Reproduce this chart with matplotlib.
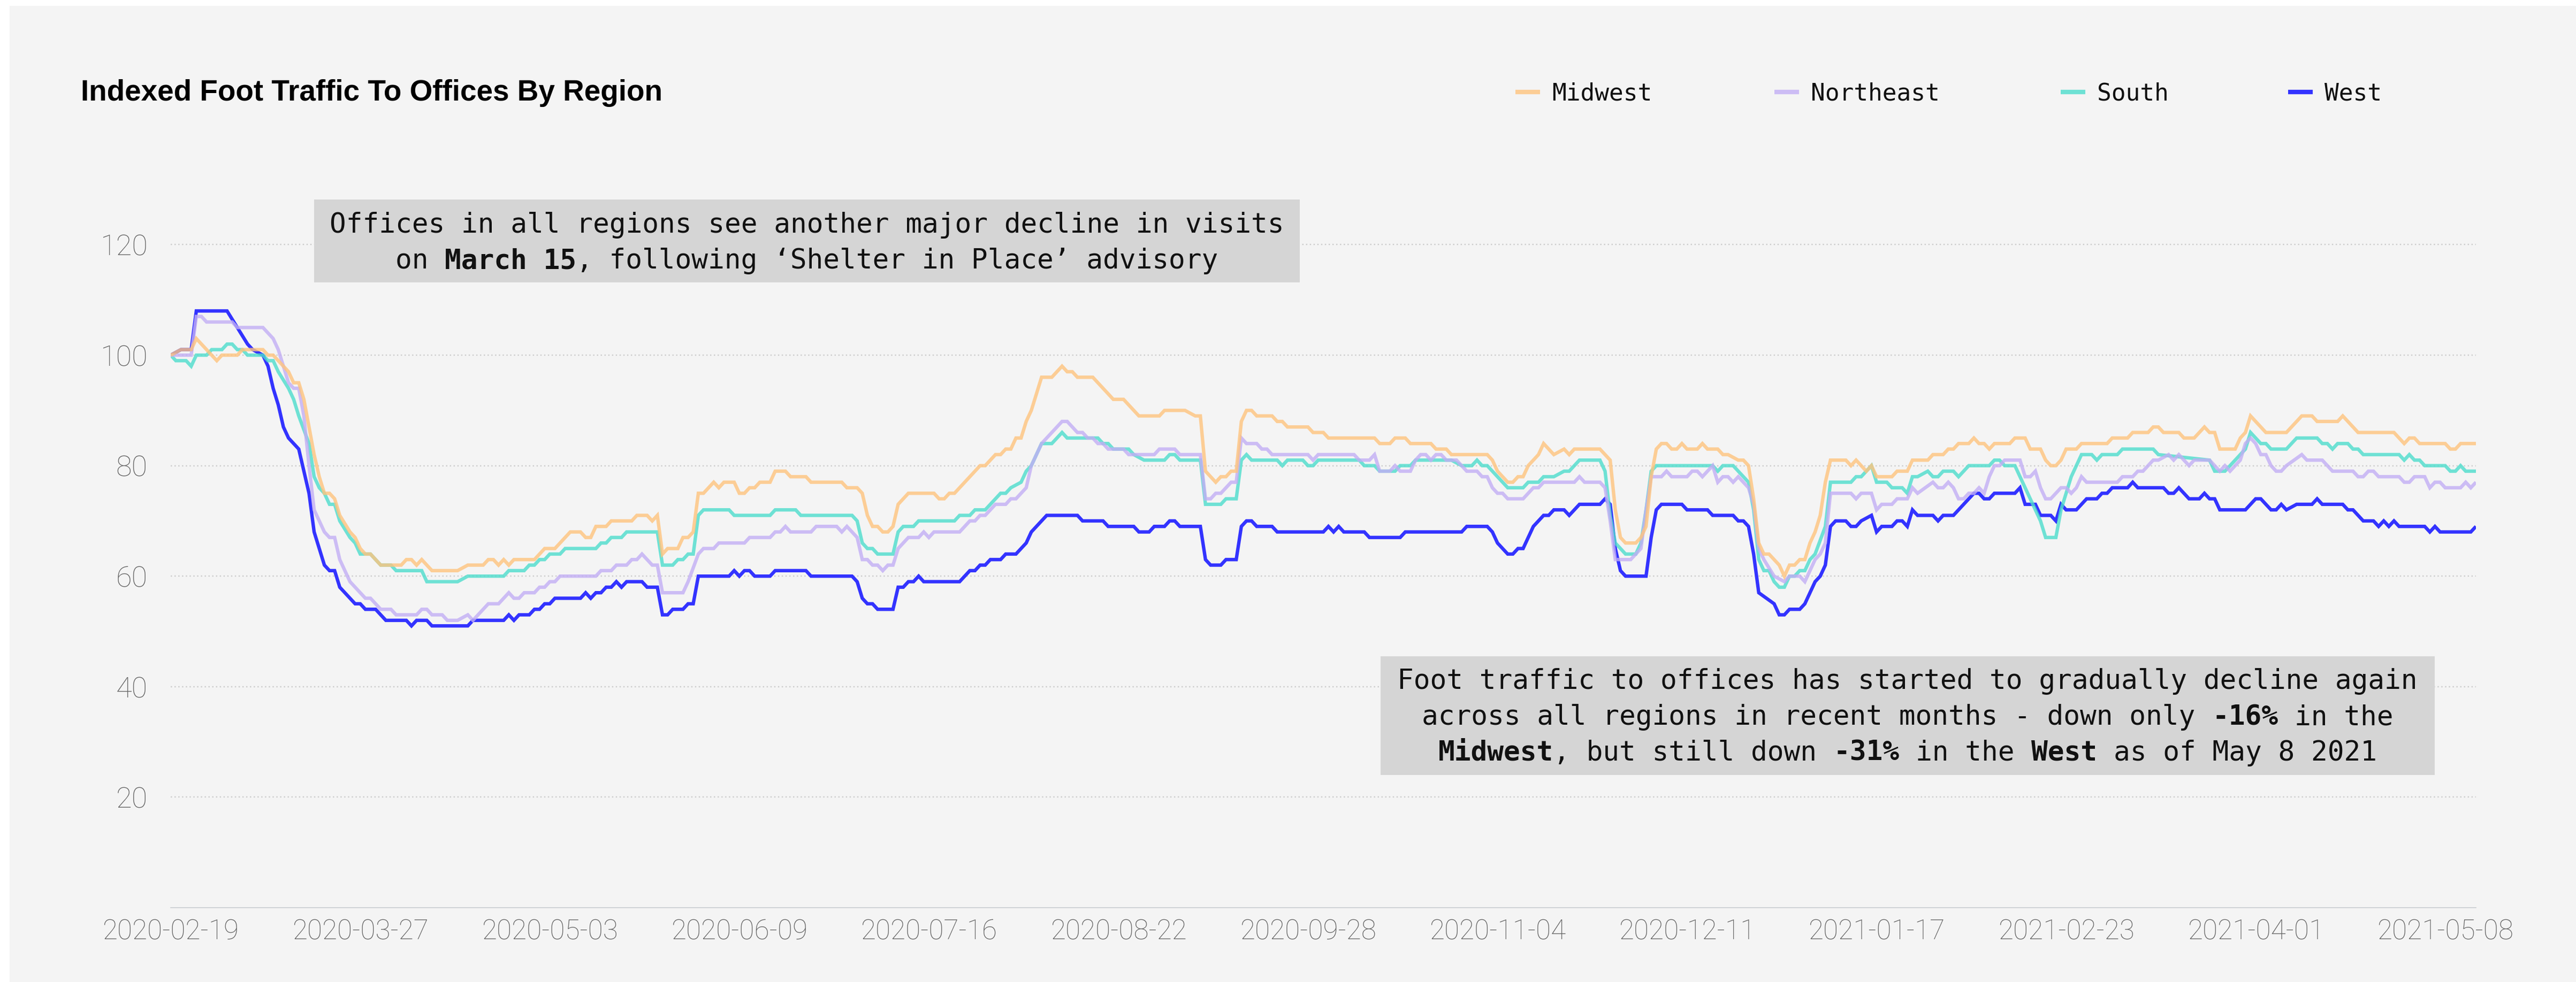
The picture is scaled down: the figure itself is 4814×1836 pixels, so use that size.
import matplotlib
matplotlib.use("Agg")
import matplotlib.pyplot as plt
import matplotlib.transforms as mtransforms
from matplotlib.lines import Line2D
from matplotlib.patches import Rectangle
import numpy as np

# ---------------- data (day offset from 2020-02-19, index value) ----------------
START_DATE = "2020-02-19"
LAST_DAY = 450

regions = ["Midwest", "Northeast", "South", "West"]

midwest_points = [
    (0,100),(2,101),(4,101),(5,103),(7,101),(9,99),(10,100),(13,100),(14,101),(18,101),(19,100),(20,100),(21,99),(23,97),(24,95),(25,95),(26,92),(27,87),(28,82),(29,78),(30,75),(31,75),(32,74),(33,71),(35,68),(36,67),(37,65),(38,64),(39,64),(41,62),(45,62),(46,63),(47,63),(48,62),(49,63),(51,61),(56,61),(58,62),(61,62),(62,63),(63,63),(64,62),(65,63),(66,62),(67,63),(71,63),(72,64),(73,65),(75,65),(76,66),(78,68),(80,68),(81,67),
    (82,67),(83,69),(85,69),(86,70),(90,70),(91,71),(93,71),(94,70),(95,71),(96,64),(97,65),(99,65),(100,67),(101,67),(102,68),(103,75),(104,75),(106,77),(107,76),(108,77),(110,77),(111,75),(112,75),(113,76),(114,76),(115,77),(117,77),(118,79),(120,79),(121,78),(124,78),(125,77),(131,77),(132,76),(134,76),(135,75),(136,71),(137,69),(138,69),(139,68),(140,68),(141,69),(142,73),(144,75),(149,75),(150,74),(151,74),(152,75),(153,75),(154,76),(156,78),(158,80),(159,80),(161,82),(162,82),(163,83),(164,83),(165,85),
    (166,85),(167,88),(168,90),(169,93),(170,96),(172,96),(174,98),(175,97),(176,97),(177,96),(180,96),(182,94),(184,92),(186,92),(188,90),(189,89),(193,89),(194,90),(198,90),(200,89),(201,89),(202,79),(204,77),(205,78),(206,78),(207,79),(208,79),(209,88),(210,90),(211,90),(212,89),(215,89),(216,88),(217,88),(218,87),(222,87),(223,86),(225,86),(226,85),(235,85),(236,84),(238,84),(239,85),(241,85),(242,84),(246,84),(247,83),(249,83),
    (250,82),(257,82),(258,81),(259,79),(261,77),(262,77),(263,78),(264,78),(265,80),(267,82),(268,84),(270,82),(272,83),(273,82),(274,83),(279,83),(281,81),(282,72),(283,67),(284,66),(286,66),(287,67),(288,69),(289,78),(290,83),(291,84),(292,84),(293,83),(294,83),(295,84),(296,83),(298,83),(299,84),(300,83),(302,83),(303,82),(304,82),(306,81),(307,81),(308,80),(309,74),(310,66),(311,64),(312,64),(314,62),(315,60),(316,62),(317,62),(318,63),(319,63),(320,66),(321,68),(322,71),(323,77),(324,81),(327,81),(328,80),(329,81),(330,80),(331,79),(332,80),(333,78),
    (336,78),(337,79),(339,79),(340,81),(343,81),(344,82),(346,82),(347,83),(348,83),(349,84),(351,84),(352,85),(353,84),(354,84),(355,83),(356,84),(359,84),(360,85),(362,85),(363,83),(365,83),(366,81),(367,80),(368,80),(369,81),(370,83),(372,83),(373,84),(378,84),(379,85),(382,85),(383,86),(386,86),(387,87),(388,87),(389,86),(392,86),(393,85),(395,85),(397,87),(398,86),(399,86),(400,83),(403,83),(404,85),(405,86),(406,89),(407,88),(408,87),(409,86),(413,86),(415,88),(416,89),(418,89),(419,88),(423,88),(424,89),(427,86),(434,86),(436,84),(437,85),(438,85),(439,84),(444,84),(445,83),(446,83),(447,84),(450,84),
]

northeast_points = [
    (0,100),(4,100),(5,107),(6,107),(7,106),(12,106),(13,105),(18,105),(20,103),(21,101),(22,98),(23,95),(24,94),(25,94),(26,89),(27,80),(28,72),(30,68),(31,67),(32,67),(33,63),(34,61),(35,59),(38,56),(39,56),(41,54),(43,54),(44,53),(48,53),(49,54),(50,54),(51,53),(53,53),(54,52),(56,52),(58,53),(59,52),(61,54),(62,55),(64,55),(65,56),(66,57),(67,56),(68,56),(69,57),(71,57),(72,58),(73,58),(74,59),(75,59),(76,60),(83,60),
    (84,61),(86,61),(87,62),(89,62),(90,63),(91,63),(92,64),(93,63),(94,62),(95,62),(96,57),(100,57),(101,59),(103,64),(104,65),(106,65),(107,66),(112,66),(113,67),(117,67),(118,68),(119,68),(120,69),(121,68),(125,68),(126,69),(130,69),(131,68),(132,69),(133,68),(134,67),(135,63),(136,63),(137,62),(138,62),(139,61),(140,62),(141,62),(142,65),(144,67),(146,67),(147,68),(148,67),(149,68),(154,68),(155,69),(156,70),(157,70),(158,71),(159,71),(160,72),(161,73),(163,73),(164,74),(165,74),
    (166,75),(167,76),(168,80),(169,82),(170,84),(172,86),(174,88),(175,88),(177,86),(178,86),(179,85),(180,85),(181,84),(182,84),(183,83),(186,83),(187,82),(192,82),(193,83),(196,83),(197,82),(201,82),(202,74),(203,74),(204,75),(205,75),(207,77),(208,77),(209,85),(210,84),(212,84),(213,83),(214,83),(215,82),(222,82),(223,81),(224,82),(231,82),(232,81),(234,81),(235,82),(236,79),(238,79),(239,80),(240,79),(242,79),(243,81),(244,82),(245,82),(246,81),(247,82),(248,82),
    (249,81),(251,81),(253,79),(255,79),(256,78),(257,78),(258,76),(259,75),(260,75),(261,74),(264,74),(266,76),(267,76),(268,77),(274,77),(275,78),(276,77),(279,77),(280,76),(281,70),(282,63),(285,63),(286,64),(287,65),(288,72),(289,78),(291,78),(292,79),(293,78),(296,78),(297,79),(298,79),(299,78),(301,80),(302,77),(303,78),(304,78),(305,77),(306,78),(308,76),(309,73),(310,65),(311,63),(313,60),(315,59),(316,60),(318,60),(319,59),(321,63),(322,64),(323,66),(324,75),(328,75),(329,74),(330,75),(332,75),
    (333,72),(334,73),(336,73),(337,74),(339,74),(340,76),(341,75),(344,77),(345,76),(346,76),(347,77),(348,76),(349,74),(350,74),(351,75),(352,75),(353,76),(354,75),(355,78),(356,80),(357,80),(358,81),(361,81),(362,78),(363,78),(364,79),(365,76),(366,74),(367,74),(369,76),(370,76),(371,75),(372,76),(373,78),(374,77),(380,77),(381,78),(383,78),(384,79),(385,79),(387,81),(388,81),(390,82),(391,81),(392,82),(394,80),(395,81),(398,81),(400,79),(401,80),(402,79),(403,80),(404,81),(405,84),(406,85),(407,84),(408,82),(409,82),(410,80),(411,79),(412,79),(413,80),(416,82),(417,81),(420,81),(421,80),(422,79),(426,79),(427,78),(428,78),(429,79),(430,79),(431,78),(435,78),(436,77),(437,77),(438,78),(440,78),(441,76),(442,77),(443,77),(444,76),(447,76),(448,77),(449,76),(450,77),
]

south_points = [
    (0,100),(1,99),(3,99),(4,98),(5,100),(7,100),(8,101),(10,101),(11,102),(12,102),(13,101),(14,101),(15,100),(18,100),(19,99),(20,99),(21,97),(23,94),(24,92),(25,89),(27,84),(28,78),(29,76),(30,75),(31,73),(32,73),(33,70),(35,67),(36,66),(37,64),(39,64),(41,62),(43,62),(44,61),(49,61),(50,59),(56,59),(58,60),(65,60),(66,61),(69,61),(70,62),(71,62),(72,63),(73,63),(74,64),(76,64),(77,65),(83,65),
    (84,66),(85,66),(86,67),(88,67),(89,68),(95,68),(96,62),(98,62),(99,63),(100,63),(101,64),(102,64),(103,71),(104,72),(109,72),(110,71),(117,71),(118,72),(122,72),(123,71),(133,71),(134,70),(135,66),(136,65),(137,65),(138,64),(141,64),(142,68),(143,69),(145,69),(146,70),(153,70),(154,71),(156,71),(157,72),(159,72),(160,73),(162,75),(163,75),(164,76),
    (166,77),(167,79),(168,80),(170,84),(172,84),(174,86),(175,85),(181,85),(182,84),(183,84),(184,83),(187,83),(188,82),(190,81),(194,81),(195,82),(196,82),(197,81),(201,81),(202,73),(205,73),(206,74),(208,74),(209,81),(210,82),(211,81),(216,81),(217,80),(218,81),(221,81),(222,80),(223,80),(224,81),(232,81),(233,80),(235,80),(236,79),(239,79),(240,80),(242,80),(243,81),(250,81),
    (252,80),(254,80),(255,81),(256,80),(257,80),(259,78),(260,77),(261,76),(264,76),(265,77),(267,77),(268,78),(270,78),(272,79),(273,79),(275,81),(279,81),(280,79),(281,71),(282,66),(284,64),(286,64),(287,66),(288,72),(289,79),(290,80),(301,80),(302,79),(303,80),(305,80),(308,77),(309,72),(310,63),(311,61),(312,61),(313,59),(314,58),(315,58),(316,60),(317,60),(318,61),(319,61),(320,63),(321,64),(323,69),(324,77),(328,77),(329,78),(330,78),(331,79),(332,80),
    (333,77),(335,77),(336,76),(338,76),(339,75),(340,78),(341,78),(343,79),(344,78),(345,78),(346,79),(348,79),(349,78),(351,80),(355,80),(356,81),(357,81),(358,80),(360,80),(362,76),(363,74),(365,70),(366,67),(368,67),(369,72),(371,78),(373,82),(375,82),(376,81),(377,82),(380,82),(381,83),(387,83),(388,82),(398,81),(399,79),(401,79),(403,81),(405,83),(406,86),(408,84),(409,84),(410,83),(413,83),(415,85),(419,85),(420,84),(421,84),(422,83),(423,84),(425,84),(426,83),(427,83),(428,82),(435,82),(436,81),(437,82),(438,81),(439,81),(440,80),(444,80),(445,79),(446,79),(447,80),(448,79),(450,79),
]

west_points = [
    (0,100),(2,101),(4,101),(5,108),(11,108),(13,105),(15,102),(16,101),(18,100),(19,98),(20,94),(21,91),(22,87),(23,85),(25,83),(26,79),(27,75),(28,68),(30,62),(31,61),(32,61),(33,58),(36,55),(37,55),(38,54),(40,54),(42,52),(46,52),(47,51),(48,52),(50,52),(51,51),(58,51),(59,52),(65,52),(66,53),(67,52),(68,53),(70,53),(71,54),(72,54),(73,55),(74,55),(75,56),(80,56),(81,57),
    (82,56),(83,57),(84,57),(85,58),(86,58),(87,59),(88,58),(89,59),(92,59),(93,58),(95,58),(96,53),(97,53),(98,54),(100,54),(101,55),(102,55),(103,60),(109,60),(110,61),(111,60),(112,61),(113,61),(114,60),(117,60),(118,61),(124,61),(125,60),(133,60),(134,59),(135,56),(136,55),(137,55),(138,54),(141,54),(142,58),(143,58),(144,59),(145,59),(146,60),(147,59),(154,59),(155,60),(156,61),(157,61),(158,62),(159,62),(160,63),(162,63),(163,64),(165,64),
    (166,65),(167,66),(168,68),(169,69),(171,71),(177,71),(178,70),(182,70),(183,69),(188,69),(189,68),(191,68),(192,69),(194,69),(195,70),(196,70),(197,69),(201,69),(202,63),(203,62),(205,62),(206,63),(208,63),(209,69),(210,70),(211,70),(212,69),(215,69),(216,68),(225,68),(226,69),(227,68),(228,69),(229,68),(233,68),(234,67),(240,67),(241,68),(249,68),
    (252,68),(253,69),(257,69),(258,68),(259,66),(261,64),(262,64),(263,65),(264,65),(266,69),(268,71),(269,71),(270,72),(272,72),(273,71),(275,73),(279,73),(280,74),(281,73),(282,65),(283,61),(284,60),(288,60),(289,67),(290,72),(291,73),(295,73),(296,72),(300,72),(301,71),(305,71),(306,70),(307,70),(308,69),(309,64),(310,57),(313,55),(314,53),(315,53),(316,54),(318,54),(319,55),(321,59),(322,60),(323,62),(324,69),(325,70),(327,70),(328,69),(329,69),(330,70),(332,71),
    (333,68),(334,69),(336,69),(337,70),(338,70),(339,69),(340,72),(341,71),(344,71),(345,70),(346,71),(348,71),(350,73),(352,75),(353,75),(354,74),(355,74),(356,75),(360,75),(361,76),(362,73),(364,73),(365,71),(367,71),(368,70),(369,73),(370,72),(372,72),(374,74),(376,74),(377,75),(378,75),(379,76),(382,76),(383,77),(384,76),(389,76),(390,75),(391,75),(392,76),(394,74),(396,74),(397,75),(398,74),(399,74),(400,72),(405,72),(407,74),(408,74),(410,72),(411,72),(412,73),(413,72),(415,73),(418,73),(419,74),(420,73),(424,73),(425,72),(426,72),(428,70),(430,70),(431,69),(432,70),(433,69),(434,70),(435,69),(440,69),(441,68),(442,69),(443,68),(449,68),(450,69),
]

x_tick_labels = ["2020-02-19", "2020-03-27", "2020-05-03", "2020-06-09", "2020-07-16",
                 "2020-08-22", "2020-09-28", "2020-11-04", "2020-12-11", "2021-01-17",
                 "2021-02-23", "2021-04-01", "2021-05-08"]
y_ticks = [20, 40, 60, 80, 100, 120]

title = "Indexed Foot Traffic To Offices By Region"
note_top = [
    [("Offices in all regions see another major decline in visits", False)],
    [("on ", False), ("March 15", True), (", following \u2018Shelter in Place\u2019 advisory", False)],
]
note_bottom = [
    [("Foot traffic to offices has started to gradually decline again", False)],
    [("across all regions in recent months - down only ", False), ("-16%", True), (" in the", False)],
    [("Midwest", True), (", but still down ", False), ("-31%", True), (" in the ", False),
     ("West", True), (" as of May 8 2021", False)],
]

# ---------------- styling ----------------
W, H, DPI = 4814, 1836, 100
colors = {"Midwest": "#FFC47E", "Northeast": "#C2AEF4", "South": "#4DDDCC", "West": "#3333FF"}
alphas = {"Midwest": 0.8, "Northeast": 0.8, "South": 0.8, "West": 1.0}
zorders = {"West": 2, "South": 3, "Northeast": 4, "Midwest": 5}
series = {"Midwest": midwest_points, "Northeast": northeast_points,
          "South": south_points, "West": west_points}

fig = plt.figure(figsize=(W / DPI, H / DPI), dpi=DPI)
fig.patch.set_facecolor("white")
fig.add_artist(Rectangle((18 / W, 0), 1 - 18 / W, 1 - 11 / H, transform=fig.transFigure,
                         facecolor="#f4f4f4", edgecolor="none", zorder=-10))

ZERO_Y = 1697
PX_PER_UNIT = 10.33
Y_TOP = 130
ax = fig.add_axes([319 / W, (H - ZERO_Y) / H, (4627 - 319) / W, Y_TOP * PX_PER_UNIT / H])
ax.set_facecolor("none")

start = np.datetime64(START_DATE)
for name in regions:
    pts = series[name]
    d = np.array([p[0] for p in pts]).astype("timedelta64[D]")
    v = [p[1] for p in pts]
    ax.plot(start + d, v, color=colors[name], alpha=alphas[name], lw=4.6,
            solid_joinstyle="miter", solid_capstyle="butt", zorder=zorders[name])

ax.set_xlim(start, start + np.timedelta64(LAST_DAY, "D"))
ax.set_ylim(0, Y_TOP)
ax.set_xticks([np.datetime64(t) for t in x_tick_labels])
ax.set_xticklabels(x_tick_labels, family="Roboto", fontweight="light", fontsize=37, color="#666666")
ax.set_yticks(y_ticks)
ax.set_yticklabels([str(t) for t in y_ticks], family="Roboto", fontweight="light", fontsize=39, color="#666666")
ax.tick_params(axis="x", length=0, pad=15)
ax.tick_params(axis="y", length=0, pad=31)
ax.yaxis.grid(True, color="#cccccc", linestyle=(0, (1, 1.9)), linewidth=1.75)
ax.xaxis.grid(False)
ax.set_axisbelow(True)
for s in ["top", "right", "left"]:
    ax.spines[s].set_visible(False)
ax.spines["bottom"].set_color("#c8ccd0")
ax.spines["bottom"].set_linewidth(1.2)

# title
fig.text(151 / W, 1 - 188 / H, title, family="Liberation Sans", fontweight="bold",
         fontsize=39.5, ha="left", va="baseline", color="black")

# legend
legend_x = {"Midwest": 2832, "Northeast": 3316, "South": 3851, "West": 4276}
for name in regions:
    x0 = legend_x[name]
    fig.add_artist(Line2D([x0 / W, (x0 + 46) / W], [1 - 172 / H, 1 - 172 / H],
                          transform=fig.transFigure, color=colors[name], alpha=alphas[name],
                          lw=6, solid_capstyle="butt"))
    fig.text((x0 + 68) / W, 1 - 188 / H, name, family="DejaVu Sans Mono", fontsize=32,
             ha="left", va="baseline", color="#111111")

# annotation boxes
MONO_ADV = 0.60205
NOTE_SIZE = 36.8


def draw_note(lines, box, cx, baselines):
    x0, y0, x1, y1 = box
    fig.add_artist(Rectangle((x0 / W, 1 - y1 / H), (x1 - x0) / W, (y1 - y0) / H,
                             transform=fig.transFigure, facecolor="#d5d5d5",
                             edgecolor="none", zorder=5))
    cw = MONO_ADV * NOTE_SIZE  # points per character
    for segs, by in zip(lines, baselines):
        total = sum(len(s) for s, _ in segs)
        idx = 0
        for s, bold in segs:
            lead = len(s) - len(s.lstrip(" "))
            txt = s.lstrip(" ")
            off_pt = -total * cw / 2 + (idx + lead) * cw
            tr = fig.transFigure + mtransforms.ScaledTranslation(off_pt / 72, 0, fig.dpi_scale_trans)
            fig.text(cx / W, 1 - by / H, txt, transform=tr, family="DejaVu Sans Mono",
                     fontweight="bold" if bold else "normal", fontsize=NOTE_SIZE,
                     ha="left", va="baseline", color="#111111", zorder=6)
            idx += len(s)


draw_note(note_top, (587, 373, 2429, 528), 1508, [435, 502])
draw_note(note_bottom, (2580, 1227, 4550, 1449), 3565, [1288, 1355, 1422])

fig.savefig("out.png", dpi=DPI, facecolor=fig.get_facecolor())
